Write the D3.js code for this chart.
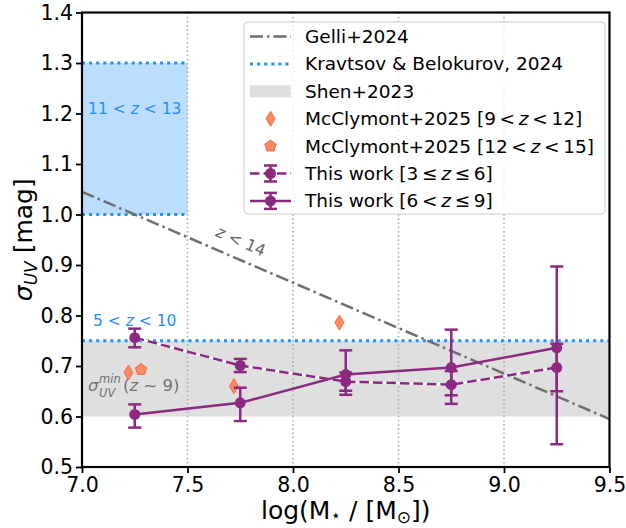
<!DOCTYPE html>
<html>
<head>
<meta charset="utf-8">
<script src="https://cdn.jsdelivr.net/npm/d3@7"></script>
<style>
  body { margin: 0; background: #fff; }
  svg text { font-family: "DejaVu Sans", sans-serif; }
</style>
</head>
<body>
<svg id="chart" width="626" height="528"></svg>
<script>
// stellar mass bins (log M*)
const massBins = [7.25, 7.75, 8.25, 8.75, 9.25];

// This work, 3 <= z <= 6
const lowZSigma = [0.756, 0.701, 0.669, 0.663, 0.697];
const lowZLo = [0.737, 0.688, 0.651, 0.642, 0.650];
const lowZHi = [0.774, 0.714, 0.687, 0.690, 0.744];

// This work, 6 < z <= 9
const highZSigma = [0.604, 0.627, 0.683, 0.697, 0.736];
const highZLo = [0.578, 0.591, 0.643, 0.625, 0.545];
const highZHi = [0.624, 0.657, 0.731, 0.772, 0.897];

// McClymont+2025
const mcc912Mass = [7.22, 7.72, 8.22];
const mcc912Sigma = [0.687, 0.660, 0.786];
const mcc1215Mass = [7.28];
const mcc1215Sigma = [0.693];

// Gelli+2024 (z < 14)
const gelliMass = [7.0, 9.5];
const gelliSigma = [1.045, 0.595];

// Kravtsov & Belokurov 2024
const kbHighBand = [1.0, 1.3];   // 11 < z < 13, only over 7.0-7.5
const kbHighMass = [7.0, 7.5];
const kbLow = 0.75;             // 5 < z < 10

// Shen+2023
const shenBand = [0.6, 0.75];

const xTicks = [7.0, 7.5, 8.0, 8.5, 9.0, 9.5];
const yTicks = [0.5, 0.6, 0.7, 0.8, 0.9, 1.0, 1.1, 1.2, 1.3, 1.4];
const gridX = [7.5, 8.0, 8.5, 9.0];

const purple = "#8c2981";
const blue = "#1e90ff";
const coral = "#fb8a5f";
const coralEdge = "#f26b45";
const thin = "\u2009";

const svg = d3.select("#chart");
const margin = {left: 82, top: 12.5, right: 16.5, bottom: 61};
const W = 626 - margin.left - margin.right;
const H = 528 - margin.top - margin.bottom;

const x = d3.scaleLinear().domain([7.0, 9.5]).range([0, W]);
const y = d3.scaleLinear().domain([0.5, 1.4]).range([H, 0]);

const g = svg.append("g").attr("transform", `translate(${margin.left},${margin.top})`);

svg.append("defs").append("clipPath").attr("id", "clip")
    .append("rect").attr("width", W).attr("height", H);
const plot = g.append("g").attr("clip-path", "url(#clip)");

// bands
plot.append("rect")
    .attr("x", x(7.0)).attr("width", x(9.5) - x(7.0))
    .attr("y", y(shenBand[1])).attr("height", y(shenBand[0]) - y(shenBand[1]))
    .attr("fill", "#808080").attr("fill-opacity", 0.25);

plot.append("rect")
    .attr("x", x(kbHighMass[0])).attr("width", x(kbHighMass[1]) - x(kbHighMass[0]))
    .attr("y", y(kbHighBand[1])).attr("height", y(kbHighBand[0]) - y(kbHighBand[1]))
    .attr("fill", blue).attr("fill-opacity", 0.3);

// grid
plot.selectAll(".grid").data(gridX).enter().append("line")
    .attr("x1", d => x(d)).attr("x2", d => x(d))
    .attr("y1", 0).attr("y2", H)
    .attr("stroke", "#b0b0b0").attr("stroke-width", 1.6)
    .attr("stroke-dasharray", "1.6,2.6");

// Kravtsov lines
const dotted = "3,4.1";
kbHighBand.forEach(v => {
    plot.append("line")
        .attr("x1", x(kbHighMass[0])).attr("x2", x(kbHighMass[1]))
        .attr("y1", y(v)).attr("y2", y(v))
        .attr("stroke", blue).attr("stroke-width", 3).attr("stroke-dasharray", dotted);
});
plot.append("line")
    .attr("x1", x(7.0)).attr("x2", x(9.5))
    .attr("y1", y(kbLow)).attr("y2", y(kbLow))
    .attr("stroke", blue).attr("stroke-width", 3).attr("stroke-dasharray", dotted);

// Gelli line
const gelli = d3.zip(gelliMass, gelliSigma);
plot.append("path")
    .attr("d", d3.line().x(d => x(d[0])).y(d => y(d[1]))(gelli))
    .attr("fill", "none").attr("stroke", "#6f6f6f").attr("stroke-width", 2.5)
    .attr("stroke-dasharray", "13,4,2.5,4");

// text annotations
const ann = g.append("g").attr("font-size", 15.5);
function zRange(sel, a, b, color) {
    sel.append("tspan").text(a + " < ");
    sel.append("tspan").attr("font-style", "italic").text("z");
    sel.append("tspan").text(" < " + b);
    sel.attr("fill", color);
}
zRange(ann.append("text").attr("x", x(7.25)).attr("y", y(1.2))
    .attr("text-anchor", "middle"), "11", "13", blue);
zRange(ann.append("text").attr("x", x(7.25)).attr("y", y(0.78))
    .attr("text-anchor", "middle"), "5", "10", blue);

// sigma_UV^min (z ~ 9) label, pieces placed side by side
const smX = x(7.0) + 6, smY = y(0.66) + 5;
const sm = ann.append("g").attr("fill", "#707070");
sm.append("text").attr("x", smX).attr("y", smY).attr("font-size", 16.5).attr("font-style", "italic").text("σ");
sm.append("text").attr("x", smX + 11).attr("y", smY - 8).attr("font-style", "italic")
    .attr("font-size", 11.5).text("min");
sm.append("text").attr("x", smX + 11).attr("y", smY + 6).attr("font-style", "italic")
    .attr("font-size", 11.5).text("UV");
const smr = sm.append("text").attr("x", smX + 35).attr("y", smY).attr("font-size", 16.5);
smr.append("tspan").text("(");
smr.append("tspan").attr("font-style", "italic").text("z");
smr.append("tspan").text(" ~ 9)");

// z < 14 along Gelli line
const angle = Math.atan2(y(gelliSigma[1]) - y(gelliSigma[0]), x(gelliMass[1]) - x(gelliMass[0])) * 180 / Math.PI;
const lm = 7.72;
const lx = x(lm), ly = y(gelliSigma[0] + (lm - gelliMass[0]) * (gelliSigma[1] - gelliSigma[0]) / (gelliMass[1] - gelliMass[0]));
const zl = ann.append("text").attr("transform", `translate(${lx},${ly}) rotate(${angle})`)
    .attr("x", 0).attr("y", -12).attr("font-size", 16)
    .attr("text-anchor", "middle").attr("fill", "#666");
zl.append("tspan").attr("font-style", "italic").text("z");
zl.append("tspan").text(" < 14");

// McClymont markers
function diamond(sel) {
    sel.attr("d", "M0,-7.5 L4.5,0 L0,7.5 L-4.5,0 Z")
        .attr("fill", coral).attr("stroke", coralEdge).attr("stroke-width", 1);
}
function pentagon(sel) {
    const r = 6;
    const pts = d3.range(5).map(i => {
        const a = -Math.PI / 2 + i * 2 * Math.PI / 5;
        return [r * Math.cos(a), r * Math.sin(a)];
    });
    sel.attr("d", "M" + pts.join("L") + "Z")
        .attr("fill", coral).attr("stroke", coralEdge).attr("stroke-width", 1);
}
d3.zip(mcc912Mass, mcc912Sigma).forEach(d => {
    plot.append("path").attr("transform", `translate(${x(d[0])},${y(d[1])})`).call(diamond);
});
d3.zip(mcc1215Mass, mcc1215Sigma).forEach(d => {
    plot.append("path").attr("transform", `translate(${x(d[0])},${y(d[1])})`).call(pentagon);
});

// This work series
function series(vals, lo, hi, dashed) {
    const pts = massBins.map((m, i) => ({m, v: vals[i], lo: lo[i], hi: hi[i]}));
    const line = d3.line().x(d => x(d.m)).y(d => y(d.v));
    if (dashed) {
        plot.append("path").attr("d", line(pts)).attr("fill", "none")
            .attr("stroke", "#fff").attr("stroke-width", 2.5);
    }
    plot.append("path").attr("d", line(pts)).attr("fill", "none")
        .attr("stroke", purple).attr("stroke-width", 2.5)
        .attr("stroke-dasharray", dashed ? "9.5,4" : null);
    const eb = plot.append("g").attr("stroke", purple).attr("stroke-width", 2.5);
    pts.forEach(d => {
        eb.append("line").attr("x1", x(d.m)).attr("x2", x(d.m)).attr("y1", y(d.lo)).attr("y2", y(d.hi));
        [d.lo, d.hi].forEach(c => eb.append("line")
            .attr("x1", x(d.m) - 6.5).attr("x2", x(d.m) + 6.5).attr("y1", y(c)).attr("y2", y(c)));
    });
    plot.selectAll(null).data(pts).enter().append("circle")
        .attr("cx", d => x(d.m)).attr("cy", d => y(d.v)).attr("r", 5.5).attr("fill", purple);
}
series(lowZSigma, lowZLo, lowZHi, true);
series(highZSigma, highZLo, highZHi, false);

// axes
const xAxis = g.append("g").attr("transform", `translate(0,${H})`)
    .call(d3.axisBottom(x).tickValues(xTicks).tickFormat(d3.format(".1f")).tickSizeOuter(0).tickSize(6).tickPadding(4));
const yAxis = g.append("g")
    .call(d3.axisLeft(y).tickValues(yTicks).tickFormat(d3.format(".1f")).tickSizeOuter(0).tickSize(6).tickPadding(3));
[xAxis, yAxis].forEach(a => {
    a.selectAll("text").attr("font-size", 20.5).attr("fill", "#000")
        .attr("font-family", "DejaVu Sans, sans-serif");
    a.selectAll(".tick line").attr("stroke-width", 1.8);
    a.select(".domain").remove();
});

// frame
g.append("rect").attr("width", W).attr("height", H)
    .attr("fill", "none").attr("stroke", "#000").attr("stroke-width", 2.2);

// axis labels
const xl = svg.append("text").attr("x", margin.left + W / 2).attr("y", 519)
    .attr("text-anchor", "middle").attr("font-size", 25);
xl.append("tspan").text("log(M");
xl.append("tspan").attr("font-size", 17).attr("dy", 2).text("⋆");
xl.append("tspan").attr("dy", -2).text(" / [M");
xl.append("tspan").attr("font-size", 17).attr("dy", 4).text("⊙");
xl.append("tspan").attr("dy", -4).text("])");

const yl = svg.append("text").attr("transform", `translate(32,${margin.top + H / 2}) rotate(-90)`)
    .attr("text-anchor", "middle").attr("font-size", 25);
yl.append("tspan").attr("font-style", "italic").text("σ");
yl.append("tspan").attr("font-style", "italic").attr("font-size", 17).attr("dy", 5).text("UV");
yl.append("tspan").attr("dy", -5).text(" [mag]");

// legend
const leg = svg.append("g").attr("transform", "translate(244,22)");
leg.append("rect").attr("width", 361).attr("height", 192).attr("rx", 4)
    .attr("fill", "#fff").attr("fill-opacity", 0.8).attr("stroke", "#cccccc").attr("stroke-width", 1);
const rowY = i => 14.5 + i * 27.4;
const hx0 = 6, hx1 = 47, tx = 61;
const legItems = [
    {label: [["Gelli+2024", false]], draw: s => s.append("line").attr("x1", hx0).attr("x2", hx1)
        .attr("stroke", "#6f6f6f").attr("stroke-width", 2.5).attr("stroke-dasharray", "13,4,2.5,4")},
    {label: [["Kravtsov & Belokurov, 2024", false]], draw: s => s.append("line").attr("x1", hx0).attr("x2", hx1)
        .attr("stroke", blue).attr("stroke-width", 3).attr("stroke-dasharray", dotted)},
    {label: [["Shen+2023", false]], draw: s => s.append("rect").attr("x", hx0).attr("y", -6).attr("width", hx1 - hx0).attr("height", 12)
        .attr("fill", "#808080").attr("fill-opacity", 0.25)},
    {label: [["McClymont+2025 [9" + thin + "<" + thin, false], ["z", true], [thin + "<" + thin + "12]", false]],
        draw: s => s.append("path").attr("transform", `translate(${(hx0 + hx1) / 2},0)`).call(diamond)},
    {label: [["McClymont+2025 [12" + thin + "<" + thin, false], ["z", true], [thin + "<" + thin + "15]", false]],
        draw: s => s.append("path").attr("transform", `translate(${(hx0 + hx1) / 2},0)`).call(pentagon)},
    {label: [["This work [3" + thin + "≤" + thin, false], ["z", true], [thin + "≤" + thin + "6]", false]], dashed: true},
    {label: [["This work [6" + thin + "<" + thin, false], ["z", true], [thin + "≤" + thin + "9]", false]], dashed: false}
];
legItems.forEach((it, i) => {
    const row = leg.append("g").attr("transform", `translate(0,${rowY(i)})`);
    if (it.draw) {
        it.draw(row);
    } else {
        const cx = (hx0 + hx1) / 2;
        row.append("line").attr("x1", hx0).attr("x2", hx1).attr("stroke", purple).attr("stroke-width", 2.5)
            .attr("stroke-dasharray", it.dashed ? "9.5,4" : null);
        row.append("line").attr("x1", cx).attr("x2", cx).attr("y1", -8).attr("y2", 8).attr("stroke", purple).attr("stroke-width", 2.5);
        [-8, 8].forEach(c => row.append("line").attr("x1", cx - 6.5).attr("x2", cx + 6.5).attr("y1", c).attr("y2", c)
            .attr("stroke", purple).attr("stroke-width", 2.5));
        row.append("circle").attr("cx", cx).attr("r", 5.5).attr("fill", purple);
    }
    const t = row.append("text").attr("x", tx).attr("y", 6.5).attr("font-size", 18.5);
    it.label.forEach(p => t.append("tspan").attr("font-style", p[1] ? "italic" : null).text(p[0]));
});
</script>
</body>
</html>
